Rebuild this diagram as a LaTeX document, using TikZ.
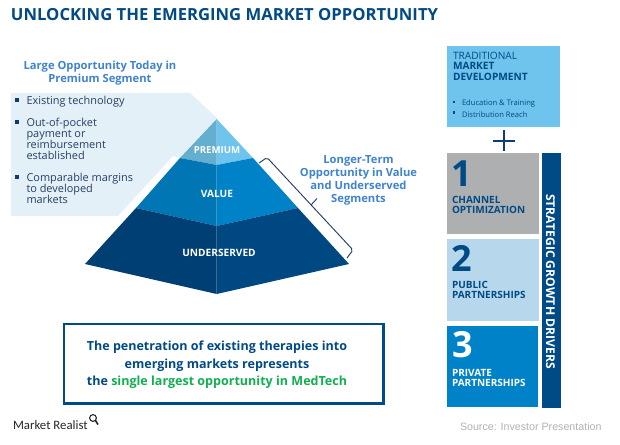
\documentclass[tikz,border=0pt]{standalone}
\usepackage{fontspec}
\setmainfont{Open Sans}
\newfontfamily\plainsans{Liberation Sans}
\newfontfamily\brandsans{Carlito}
\definecolor{navy}{HTML}{004A86}
\definecolor{deepnavy}{HTML}{0F3D73}
\definecolor{skyblue}{HTML}{6EC4EC}
\definecolor{skyshade}{HTML}{64AECF}
\definecolor{paleblue}{HTML}{B7D8EC}
\definecolor{midblue}{HTML}{0082C8}
\definecolor{midshade}{HTML}{0076B5}
\definecolor{lowblue}{HTML}{004882}
\definecolor{lowshade}{HTML}{003F74}
\definecolor{panelblue}{HTML}{E4F0F8}
\definecolor{headblue}{HTML}{3F83CF}
\definecolor{slate}{HTML}{263F63}
\definecolor{greentext}{HTML}{10B050}
\definecolor{boxgrey}{HTML}{ADAFB1}
\tikzset{
  every node/.style={inner sep=0pt, outer sep=0pt},
  tier/.style={font=\fontsize{7.6}{9}\selectfont\bfseries, text=white},
  head/.style={font=\fontsize{8.4}{9.6}\selectfont\bfseries, text=headblue, align=center},
  bullettext/.style={font=\fontsize{8.2}{8.4}\selectfont, text=slate, anchor=north west, align=left},
  sq/.style={fill=deepnavy, minimum size=2.4pt},
  driverbox/.style={minimum width=69pt, anchor=north west},
  bignum/.style={font=\fontsize{27}{27}\selectfont\bfseries, anchor=west},
  drivertext/.style={font=\fontsize{7.5}{7.5}\selectfont\bfseries, anchor=north west, align=left},
}
\begin{document}
\begin{tikzpicture}[x=0.75pt, y=-0.75pt]
\useasboundingbox (0,0) rectangle (620,445);
\fill[white] (0,0) rectangle (620,445);

\node[font=\fontsize{12.5}{14}\selectfont\bfseries, text=navy, anchor=west] (title) at (11,15) {UNLOCKING THE EMERGING MARKET OPPORTUNITY};

% pale callout behind the pyramid
\fill[panelblue] (11,93) -- (190,93) -- (217,118) -- (180,158) -- (173,156) -- (118,216) -- (11,216) -- cycle;

\node[head] (large) at (100,73) {Large Opportunity Today in\\Premium Segment};

\node[sq] (b1) at (17,100) {};
\node[bullettext] (t1) at (26.5,96) {Existing technology};
\node[sq] (b2) at (17,122) {};
\node[bullettext] (t2) at (26.5,118) {Out-of-pocket\\payment or\\reimbursement\\established};
\node[sq] (b3) at (17,177) {};
\node[bullettext] (t3) at (26.5,173) {Comparable margins\\to developed\\markets};

% pyramid tiers, each with a darker left face
\fill[skyblue] (216.7,119) -- (253,158) -- (216.7,165) -- cycle;
\fill[skyshade] (216.7,119) -- (180,158) -- (216.7,165) -- cycle;
\fill[midblue] (253,158) -- (298,208) -- (216.7,226) -- (216.7,165) -- cycle;
\fill[midshade] (180,158) -- (136,208) -- (216.7,226) -- (216.7,165) -- cycle;
\fill[lowblue] (298,208) -- (349,264) -- (216.7,294) -- (216.7,226) -- cycle;
\fill[lowshade] (136,208) -- (85,264) -- (216.7,294) -- (216.7,226) -- cycle;
\node[tier, font=\fontsize{7.2}{9}\selectfont\bfseries] (premium) at (217,150) {PREMIUM};
\node[tier] (value) at (217,194) {VALUE};
\node[tier] (under) at (219,253) {UNDERSERVED};

% bracket along the right flank
\coordinate (brA) at (259,163);
\coordinate (brB) at (347,258);
\coordinate (brT) at (311,205);
\draw[slate, line width=0.7pt, rounded corners=1.5pt] (brA) -- (267,157.5) -- (353,250) -- (brB);
\draw[slate, line width=0.7pt] (brT) -- (317,198.5);

\node[head] (longer) at (358.5,180.5) {Longer-Term\\Opportunity in Value\\and Underserved\\Segments};

% takeaway frame
\node[draw=navy, line width=2.2pt, fill=white, minimum width=239.5pt, minimum height=59.5pt, anchor=north west] (frame) at (64,324) {};
\node[font=\fontsize{9.4}{13.1}\selectfont\bfseries, text=navy, align=center] (msg) at (217,365) {The penetration of existing therapies into\\emerging markets represents\\the \textcolor{greentext}{single largest opportunity in MedTech}};

% right column
\node[fill=skyblue, minimum width=84.75pt, minimum height=60.75pt, anchor=north west] (trad) at (447,46) {};
\node[font=\fontsize{7.6}{7.6}\selectfont, text=navy, anchor=north west, align=left] (tradtxt) at (453,52.5) {TRADITIONAL\\\textbf{MARKET}\\\textbf{DEVELOPMENT}};
\node[fill=navy, minimum size=2pt] (s1) at (454,102) {};
\node[fill=navy, minimum size=2pt] (s2) at (454,112.5) {};
\node[font=\fontsize{5.7}{7}\selectfont, text=navy, anchor=west] (e1) at (462,104) {Education \& Training};
\node[font=\fontsize{5.7}{7}\selectfont, text=navy, anchor=west] (e2) at (462,114.5) {Distribution Reach};

\draw[deepnavy, line width=1.3pt] (493,141) -- (515,141) (504,130.5) -- (504,151.5);

\node[driverbox, fill=boxgrey, minimum height=60.75pt] (d1) at (447,153) {};
\node[driverbox, fill=paleblue, minimum height=61.5pt] (d2) at (447,239) {};
\node[driverbox, fill=midblue, minimum width=68pt, minimum height=60.75pt] (d3) at (447,326) {};
\node[bignum, text=navy] (n1) at (451,174) {1};
\node[drivertext, text=navy] (l1) at (452,196.5) {CHANNEL\\OPTIMIZATION};
\node[bignum, text=navy] (n2) at (451,258) {2};
\node[drivertext, text=navy] (l2) at (452,281) {PUBLIC\\PARTNERSHIPS};
\node[bignum, text=white] (n3) at (452,345) {3};
\node[drivertext, text=white] (l3) at (452,369.5) {PRIVATE\\PARTNERSHIPS};

\node[fill=navy, minimum width=14.6pt, minimum height=191.5pt, anchor=north west] (bar) at (541.5,153) {};
\node[font=\fontsize{9.1}{9}\selectfont\bfseries, text=white, rotate=-90] (drivers) at (550.5,281.5) {STRATEGIC GROWTH DRIVERS};

\node[font=\plainsans\fontsize{8}{10}\selectfont, text=black!30, anchor=west] (source) at (460,427) {Source: Investor Presentation};

% wordmark with its magnifier
\node[font=\brandsans\fontsize{9.6}{11}\selectfont, text=black!85, anchor=west] (brand) at (13,425.5) {Market Realist};
\coordinate (lens) at (93,418);
\draw[black!85, line width=0.8pt] (lens) circle (3.4);
\draw[black!85, line width=1.2pt] (95.5,420.5) -- (98,424.5);
\end{tikzpicture}
\end{document}
